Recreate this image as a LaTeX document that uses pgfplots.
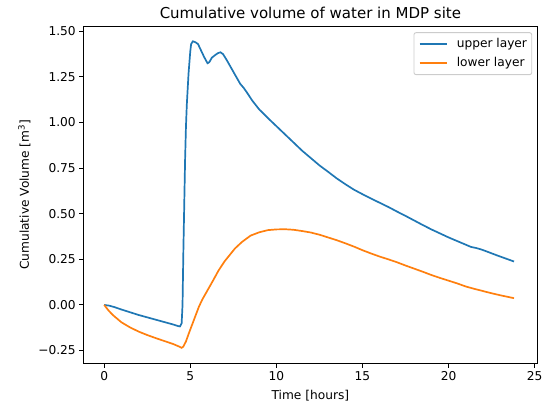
\documentclass[border=0pt]{standalone}
\usepackage{fontspec}
\setmainfont{DejaVu Sans}
\usepackage{pgfplots}
\pgfplotsset{compat=1.18}
\definecolor{mplblue}{HTML}{1F77B4}
\definecolor{mplorange}{HTML}{FF7F0E}
\definecolor{legframe}{HTML}{CCCCCC}
\newcommand{\fs}{\fontsize{12.2}{14.6}\selectfont}
\begin{document}
\begin{tikzpicture}
\begin{axis}[
  scale only axis, width=453.8pt, height=337.5pt,
  xmin=-1.2, xmax=25.15, ymin=-0.321, ymax=1.529,
  xtick={0,5,10,15,20,25},
  ytick={-0.25,0,0.25,0.5,0.75,1.0,1.25,1.5},
  yticklabels={−0.25,0.00,0.25,0.50,0.75,1.00,1.25,1.50},
  /pgf/number format/assume math mode=true,
  tick align=outside, tick pos=left,
  major tick length=4.2pt,
  tick style={black, line width=0.9pt},
  axis line style={line width=0.9pt},
  ticklabel style={font=\fs},
  label style={font=\fs},
  xlabel={Time [hours]},
  xlabel style={at={(axis description cs:0.5,0)}, anchor=base, yshift=-36.5pt},
  ylabel={Cumulative Volume [m\textsuperscript{3}]},
  ylabel style={at={(axis description cs:0,0.5)}, anchor=base, yshift=54.5pt},
  title={Cumulative volume of water in MDP site},
  title style={font=\fontsize{15.0}{18}\selectfont, at={(axis description cs:0.5,1)}, anchor=base, yshift=1pt},
  legend style={name=leg, at={(1,1)}, anchor=north east, xshift=-5.6pt, yshift=-6.7pt,
    draw=none, fill=white, font=\fs, inner xsep=4.5pt, inner ysep=5pt,
    row sep=6.5pt, nodes={inner xsep=0pt, inner ysep=0pt, text height=9.5pt, text depth=3pt}},
  legend cell align=left,
  legend image code/.code={\draw[#1, line width=1.7pt, sharp corners] (0pt,0pt) -- (27pt,0pt);},
  /tikz/every odd column/.append style={column sep=9.4pt},
]
\coordinate (sw) at (rel axis cs:0,0);
\coordinate (ne) at (rel axis cs:1,1);
\addplot[draw=mplblue, line width=1.7pt, sharp corners] coordinates {
(0,0) (0.3,-0.004) (0.6,-0.012) (1.0,-0.025) (1.5,-0.040) (2.0,-0.055)
(2.5,-0.068) (3.0,-0.081) (3.5,-0.094) (4.0,-0.107) (4.3,-0.116) (4.4,-0.118)
(4.5,-0.10) (4.55,0.0) (4.6,0.3) (4.65,0.55) (4.7,0.80) (4.75,0.98) (4.8,1.10)
(4.9,1.27) (5.0,1.39) (5.05,1.43) (5.15,1.445) (5.3,1.44) (5.45,1.43) (5.6,1.40)
(5.8,1.36) (6.0,1.325) (6.1,1.33) (6.25,1.355) (6.45,1.37) (6.6,1.38) (6.75,1.385)
(6.9,1.375) (7.1,1.345) (7.4,1.295) (7.7,1.245) (7.9,1.212) (8.1,1.19) (8.3,1.163)
(8.6,1.12) (9.0,1.072) (9.5,1.025) (10.0,0.98) (10.5,0.935) (11.0,0.89) (11.5,0.845)
(12.0,0.805) (12.5,0.765) (13.0,0.73) (13.5,0.694) (14.0,0.662) (14.5,0.632)
(15.0,0.607) (15.5,0.583) (16.0,0.56) (16.5,0.537) (17.0,0.512) (17.5,0.488)
(18.0,0.463) (18.5,0.438) (19.0,0.414) (19.5,0.392) (20.0,0.37) (20.5,0.35)
(21.0,0.33) (21.3,0.318) (21.6,0.312) (21.9,0.304) (22.3,0.29) (22.8,0.272)
(23.3,0.255) (23.8,0.238)
};
\addlegendentry{upper layer}
\addplot[draw=mplorange, line width=1.7pt, sharp corners] coordinates {
(0,0) (0.25,-0.03) (0.5,-0.055) (1.0,-0.095) (1.5,-0.123) (2.0,-0.146)
(2.5,-0.165) (3.0,-0.182) (3.5,-0.198) (4.0,-0.214) (4.3,-0.226) (4.5,-0.235)
(4.6,-0.228) (4.75,-0.2) (4.9,-0.16) (5.1,-0.11) (5.3,-0.06) (5.5,-0.01)
(5.7,0.03) (6.0,0.08) (6.3,0.13) (6.65,0.19) (7.0,0.24) (7.3,0.275) (7.6,0.31)
(8.0,0.345) (8.5,0.38) (9.0,0.398) (9.5,0.41) (10.0,0.414) (10.5,0.415)
(11.0,0.412) (11.5,0.405) (12.0,0.397) (12.5,0.385) (13.0,0.37) (13.5,0.355)
(14.0,0.338) (14.5,0.32) (15.0,0.30) (15.5,0.282) (16.0,0.265) (16.5,0.25)
(17.0,0.234) (17.5,0.216) (18.0,0.199) (18.5,0.182) (19.0,0.164) (19.5,0.148)
(20.0,0.133) (20.5,0.118) (21.0,0.101) (21.5,0.088) (22.0,0.076) (22.5,0.064)
(23.0,0.053) (23.5,0.043) (23.8,0.037)
};
\addlegendentry{lower layer}
\end{axis}
\draw[legframe, line width=0.9pt, rounded corners=2pt] (leg.south west) rectangle (leg.north east);
\pgfresetboundingbox
\path ([shift={(-83.5pt,-43.7pt)}]sw) rectangle ([shift={(9.7pt,26pt)}]ne);
\end{tikzpicture}
\end{document}
